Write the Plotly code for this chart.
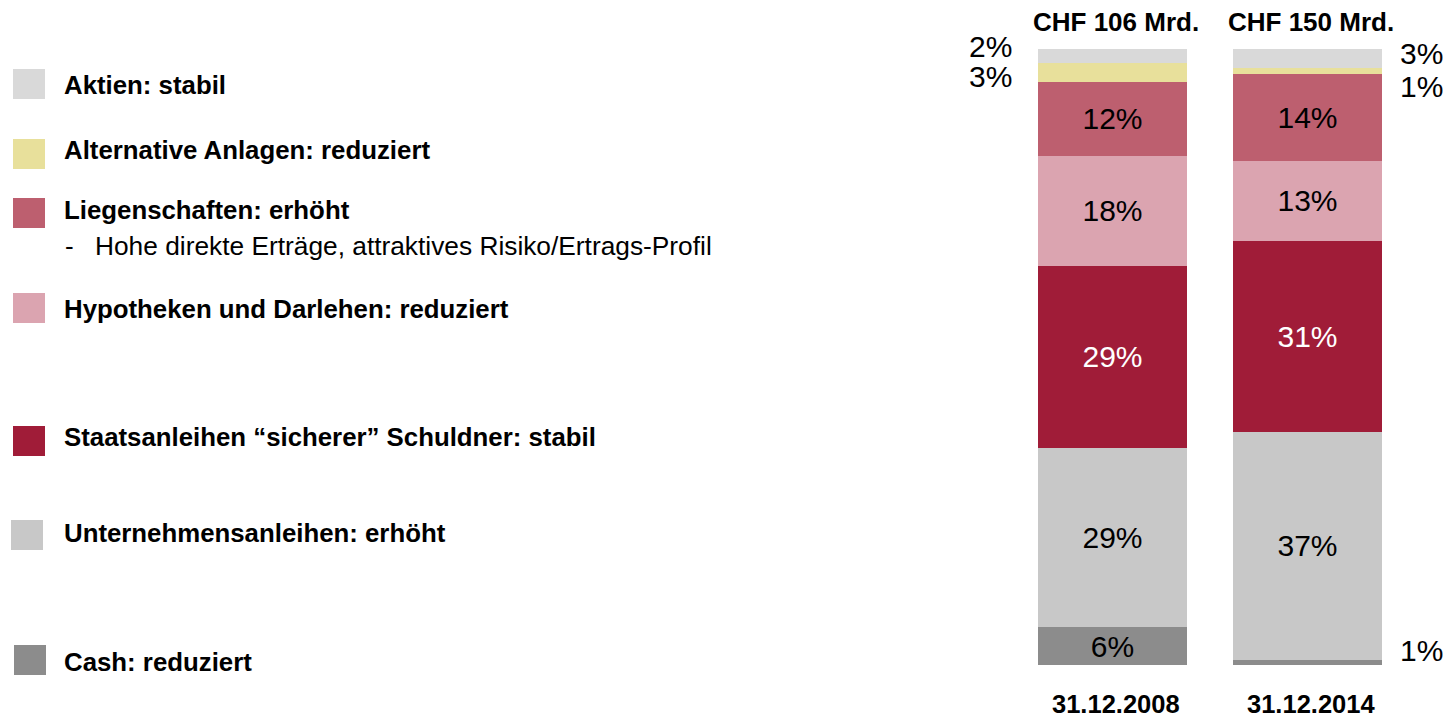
import plotly.graph_objects as go

categories = ["Aktien", "Alternative Anlagen", "Liegenschaften", "Hypotheken und Darlehen",
              "Staatsanleihen", "Unternehmensanleihen", "Cash"]
dates = ["31.12.2008", "31.12.2014"]
totals = ["CHF 106 Mrd.", "CHF 150 Mrd."]
# shares (top to bottom) for each date
values_2008 = [2.3, 3.1, 11.9, 17.9, 29.5, 29.2, 6.1]
values_2014 = [3.1, 1.0, 14.0, 13.0, 31.0, 37.1, 0.8]
labels_2008 = ["2%", "3%", "12%", "18%", "29%", "29%", "6%"]
labels_2014 = ["3%", "1%", "14%", "13%", "31%", "37%", "1%"]
colors = ["#D9D9D9", "#E8E09B", "#BD5F6F", "#DBA4B0", "#A01C38", "#C8C8C8", "#8C8C8C"]
text_colors = ["black", "black", "black", "black", "white", "black", "black"]
legend_texts = ["Aktien: stabil", "Alternative Anlagen: reduziert", "Liegenschaften: erhöht",
                "Hypotheken und Darlehen: reduziert", "Staatsanleihen “sicherer” Schuldner: stabil",
                "Unternehmensanleihen: erhöht", "Cash: reduziert"]
sub_dash = "-"
sub_text = "Hohe direkte Erträge, attraktives Risiko/Ertrags-Profil"

W, H = 1447, 717
FONT = "Liberation Sans, Arial, sans-serif"
BAR_W = 149 / 195
MIN_INSIDE = 5.0

# plot area in pixels
PX0, PX1, PY0, PY1 = 1015, 1405, 49, 665
L, R, T, B = PX0, W - PX1, PY0, H - PY1


def px(xr):
    return (xr - PX0) / (PX1 - PX0)


def py(yr):
    return (PY1 - yr) / (PY1 - PY0)


fig = go.Figure()
xs = [0, 1]
for i in reversed(range(len(categories))):
    vals = [values_2008[i], values_2014[i]]
    labs = [labels_2008[i], labels_2014[i]]
    txt = [l if v >= MIN_INSIDE else "" for l, v in zip(labs, vals)]
    fig.add_trace(go.Bar(
        x=xs, y=vals, width=BAR_W, name=categories[i],
        marker=dict(color=colors[i], line=dict(width=0)),
        text=txt, textposition="inside", insidetextanchor="middle",
        textfont=dict(family=FONT, size=30, color=text_colors[i]),
        hoverinfo="skip", showlegend=False,
    ))

annotations = []
# outside labels for small segments: (bar, index, right edge in px, yshift)
outside = [(0, 0, 1014, 10), (0, 1, 1014, -4), (1, 0, 1445, 5), (1, 1, 1445, -15), (1, 6, 1445, 12)]
series = [(values_2008, labels_2008), (values_2014, labels_2014)]
for xi, i, xr, ys in outside:
    vals, labs = series[xi]
    center = 100 - sum(vals[:i]) - vals[i] / 2
    annotations.append(dict(x=px(xr), y=center, xref="paper", yref="y", text=labs[i],
                            showarrow=False, xanchor="right", yanchor="middle", yshift=ys,
                            font=dict(family=FONT, size=30, color="black")))
# totals and dates
for xi in range(2):
    annotations.append(dict(x=xi, y=100, xref="x", yref="y", text="<b>%s</b>" % totals[xi],
                            showarrow=False, yanchor="middle", yshift=27, xshift=3,
                            font=dict(family=FONT, size=26, color="black")))
    annotations.append(dict(x=xi, y=0, xref="x", yref="y", text="<b>%s</b>" % dates[xi],
                            showarrow=False, yanchor="middle", yshift=-39, xshift=3,
                            font=dict(family=FONT, size=25.5, color="black")))

# legend on the left (pixels)
text_y = [85, 150, 210, 309, 437, 533, 662]
sq_top = [69, 139, 198, 293, 426, 520, 645]
sq_x = [13, 13, 13, 13, 13, 11, 14]
shapes = []
for i, txt in enumerate(legend_texts):
    shapes.append(dict(type="rect", xref="paper", yref="paper",
                       x0=px(sq_x[i]), x1=px(sq_x[i] + 32),
                       y0=py(sq_top[i] + 30), y1=py(sq_top[i]),
                       fillcolor=colors[i], line=dict(width=0)))
    annotations.append(dict(x=px(62), y=py(text_y[i]), xref="paper", yref="paper",
                            text="<b>%s</b>" % txt, showarrow=False, xanchor="left",
                            yanchor="middle", font=dict(family=FONT, size=25.8, color="black")))
annotations.append(dict(x=px(63), y=py(246), xref="paper", yref="paper",
                        text=sub_dash, showarrow=False, xanchor="left", yanchor="middle",
                        font=dict(family=FONT, size=26, color="black")))
annotations.append(dict(x=px(93), y=py(246), xref="paper", yref="paper",
                        text=sub_text, showarrow=False, xanchor="left", yanchor="middle",
                        font=dict(family=FONT, size=26.3, color="black")))

fig.update_layout(
    width=W, height=H, barmode="stack",
    margin=dict(l=L, r=R, t=T, b=B, pad=0),
    paper_bgcolor="white", plot_bgcolor="white",
    xaxis=dict(range=[-0.5, 1.5], visible=False, fixedrange=True),
    yaxis=dict(range=[0, 100], visible=False, fixedrange=True),
    uniformtext=dict(minsize=30, mode="show"),
    annotations=annotations, shapes=shapes,
)
fig.write_html("out.html", config={"displayModeBar": False, "staticPlot": True},
               post_script="document.body.style.margin='0';document.body.style.overflow='hidden';")
